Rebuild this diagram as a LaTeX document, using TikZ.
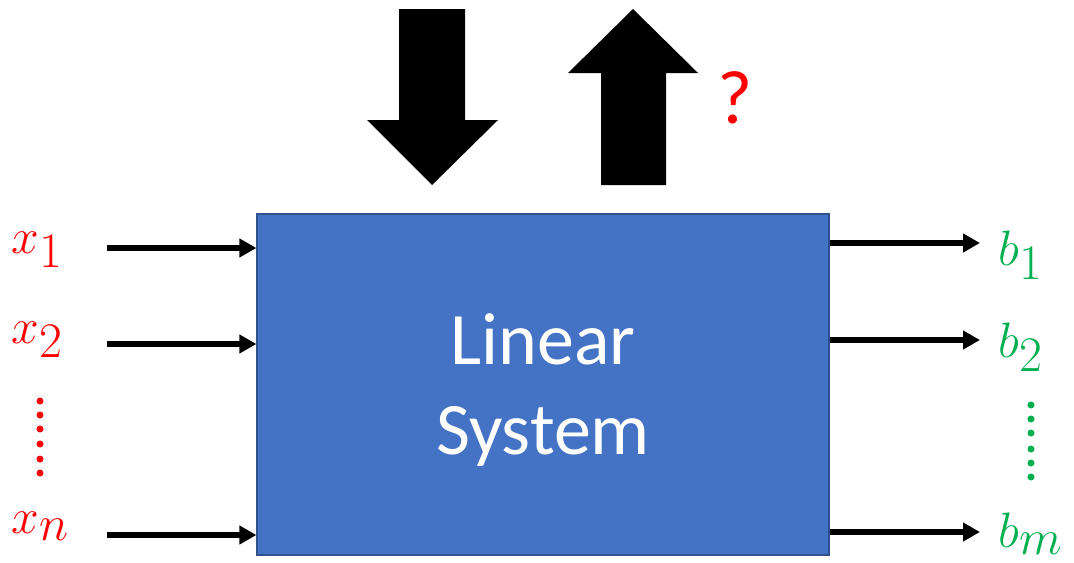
\documentclass[tikz,border=0pt]{standalone}
\usepackage{fontspec}
\setmainfont{Carlito}
\usetikzlibrary{arrows.meta,positioning}
\DeclareMathSizes{33}{33}{26}{20}
\definecolor{sysfill}{HTML}{4472C4}
\definecolor{sysedge}{HTML}{2F528F}
\definecolor{outgreen}{HTML}{00B050}
\tikzset{
    sig/.style={line width=2.8pt,-{Triangle[length=8.5pt,width=9pt]}},
    inlbl/.style={red,inner sep=0pt,anchor=base west,font=\fontsize{33}{38}\selectfont},
    outlbl/.style={outgreen,inner sep=0pt,anchor=base west,font=\fontsize{33}{38}\selectfont},
}

\begin{document}
\begin{tikzpicture}[x=0.5pt,y=-0.5pt]
    \useasboundingbox (0,0) rectangle (1074,562);
    % the block itself
    \node (sys)[draw=sysedge,line width=0.6pt,fill=sysfill,minimum width=286pt,minimum height=170.5pt,
        text=white,align=center,text depth=0pt,font=\fontsize{37}{45}\selectfont] at (543,384.5) {Linear\\System};
    % inputs on the left
    \foreach \n/\y/\base in {1/248/253, 2/344/343, n/535/533} {
        \node (x\n)[inlbl] at (11,\base) {$x_{\n}$};
        \coordinate (in\n) at (107,\y);
        \draw[sig] (in\n) -- (in\n -| sys.west);
    }
    \foreach \y in {401,415,429,444,459,473} \fill[red] (40,\y) circle (1.75pt);
    % outputs on the right
    \foreach \n/\y/\base in {1/243/265, 2/340/357, m/532/547} {
        \node (b\n)[outlbl] at (998,\base) {$b_{\n}$};
        \coordinate (out\n) at (980,\y);
        \draw[sig] (out\n -| sys.east) -- (out\n);
    }
    \foreach \y in {405,419,433,449,463,477} \fill[outgreen] (1031,\y) circle (1.75pt);
    % big arrows over the block
    \fill (399,9) -- (465,9) -- (465,120) -- (498,120) -- (432,185) -- (367,120) -- (399,120) -- cycle;
    \fill (601,185) -- (666,185) -- (666,73) -- (698,73) -- (633,9) -- (568,73) -- (601,73) -- cycle;
    \node (ask)[red,inner sep=0pt,anchor=base west,font=\fontsize{38}{44}\selectfont] at (717,123) {?};
\end{tikzpicture}
\end{document}
